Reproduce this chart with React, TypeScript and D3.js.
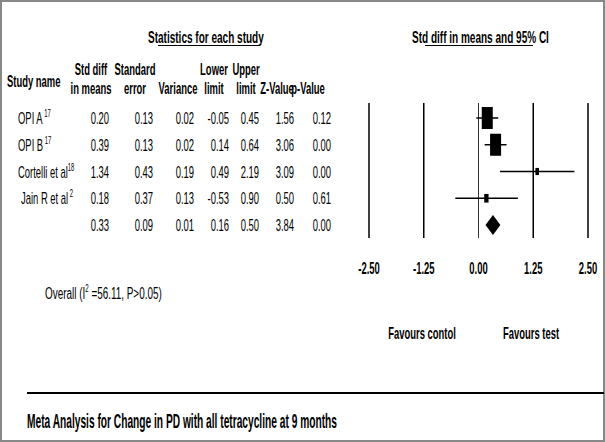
import React from "react";
import * as d3 from "d3";

// study rows
const studyNames = ["OPI A", "OPI B", "Cortelli et al", "Jain R et al"];
const studyRefs = [" 17", " 17", "18", " 2"];
const stdDiff = [0.2, 0.39, 1.34, 0.18];
const stdErr = [0.13, 0.13, 0.43, 0.37];
const variance = [0.02, 0.02, 0.19, 0.13];
const lowerLimit = [-0.05, 0.14, 0.49, -0.53];
const upperLimit = [0.45, 0.64, 2.19, 0.9];
const zValue = [1.56, 3.06, 3.09, 0.5];
const pValue = [0.12, 0.0, 0.0, 0.61];

// pooled (summary) row
const summaryRow = [0.33, 0.09, 0.01, 0.16, 0.5, 3.84, 0.0];

const columnHeaders = [
  ["Std diff", "in means"],
  ["Standard", "error"],
  ["", "Variance"],
  ["Lower", "limit"],
  ["Upper", "limit"],
  ["", "Z-Value"],
  ["", "p-Value"],
];

const axisTicks = [-2.5, -1.25, 0, 1.25, 2.5];
const axisDomain = [-2.5, 2.5];

const FONT = "'Liberation Sans', Arial, sans-serif";
// the original uses a very condensed face, so squeeze Liberation Sans
const SX = 0.59;

const T = ({ x, y, anchor = "start", size = 16, bold = false, sx = SX, children }: any) => (
  <text
    transform={`translate(${x},${y}) scale(${sx},1)`}
    textAnchor={anchor}
    fontSize={size}
    fontWeight={bold ? "bold" : "normal"}
    fontFamily={FONT}
    fill="#000"
  >
    {children}
  </text>
);

const fmt = (v: number) => v.toFixed(2);

export default function App() {
  const width = 605;
  const height = 442;

  const x = d3.scaleLinear().domain(axisDomain).range([369, 588]);
  const rowY = d3.scaleLinear().domain([0, 4]).range([118, 225]);

  const weights = variance.map((v) => 1 / v);
  const boxH = d3.scaleSqrt().domain([0, d3.max(weights) as number]).range([0, 22]);

  // column layout: header centers and right edges for numbers
  const headerX = [91, 135, 178, 214, 246, 277, 308];
  const colRight = [109, 153, 194, 229, 259, 294, 331];

  const rows = studyNames.map((name, i) => [
    stdDiff[i],
    stdErr[i],
    variance[i],
    lowerLimit[i],
    upperLimit[i],
    zValue[i],
    pValue[i],
  ]);

  const plotTop = 103;
  const plotBottom = 238;

  const s = summaryRow;
  const sy = rowY(4);
  const diamond =
    d3.line()([
      [x(s[3]), sy],
      [x(s[0]), sy - 10],
      [x(s[4]), sy],
      [x(s[0]), sy + 10],
    ]) + "Z";

  return (
    <svg
      width={width}
      height={height}
      style={{ position: "absolute", left: 0, top: 0, background: "#fff" }}
    >
      <rect x={1} y={1} width={603} height={440} fill="#fff" stroke="#888" strokeWidth={2} />

      {/* section titles */}
      <T x={148} y={43} bold size={17}>Statistics for each study</T>
      <line x1={158} x2={260} y1={45.5} y2={45.5} stroke="#000" strokeWidth={1} />
      <T x={412} y={43} bold size={17}>Std diff in means and 95% CI</T>
      <line x1={425} x2={533} y1={45.5} y2={45.5} stroke="#000" strokeWidth={1} />

      {/* column headers */}
      <T x={7} y={87} bold>Study name</T>
      {columnHeaders.map((h, j) => (
        <g key={j}>
          {h[0] && <T x={headerX[j]} y={75} anchor="middle" bold>{h[0]}</T>}
          <T x={headerX[j]} y={94} anchor="middle" bold>{h[1]}</T>
        </g>
      ))}

      {/* study rows */}
      {rows.map((r, i) => (
        <g key={i}>
          <T x={i === 3 ? 21 : 18} y={rowY(i) + 6}>
            {studyNames[i]}
            <tspan fontSize={10} dy={-7}>{studyRefs[i]}</tspan>
          </T>
          {r.map((v, j) => (
            <T key={j} x={colRight[j]} y={rowY(i) + 6} anchor="end">{fmt(v)}</T>
          ))}
        </g>
      ))}
      {s.map((v, j) => (
        <T key={j} x={colRight[j]} y={sy + 6} anchor="end">{fmt(v)}</T>
      ))}

      {/* forest plot grid */}
      {axisTicks.map((t, k) => (
        <g key={k}>
          <line
            x1={x(t)}
            x2={x(t)}
            y1={plotTop}
            y2={plotBottom}
            stroke={t === 0 ? "#333" : "#000"}
            strokeWidth={t === 0 ? 1 : 1.5}
          />
          <T x={x(t)} y={274} anchor="middle" bold>{fmt(t)}</T>
        </g>
      ))}

      {/* CIs and boxes */}
      {stdDiff.map((d, i) => {
        const h = boxH(weights[i]);
        const w = h * 0.5;
        return (
          <g key={i}>
            <line
              x1={x(lowerLimit[i])}
              x2={x(upperLimit[i])}
              y1={rowY(i)}
              y2={rowY(i)}
              stroke="#000"
              strokeWidth={1.5}
            />
            <rect x={x(d) - w / 2} y={rowY(i) - h / 2} width={w} height={h} fill="#000" />
          </g>
        );
      })}
      <path d={diamond} fill="#000" />

      {/* favours labels */}
      <T x={422} y={339} anchor="middle" bold>Favours contol</T>
      <T x={531} y={339} anchor="middle" bold>Favours test</T>

      <T x={45} y={299} sx={0.62}>
        Overall (I<tspan fontSize={10} dy={-7}>2</tspan>
        <tspan dy={7}> =56.11, P&gt;0.05)</tspan>
      </T>

      <line x1={27} x2={604} y1={393} y2={393} stroke="#000" strokeWidth={2} />
      <T x={27} y={428} bold size={20} sx={0.51}>
        Meta Analysis for Change in PD with all tetracycline at 9 months
      </T>
    </svg>
  );
}
